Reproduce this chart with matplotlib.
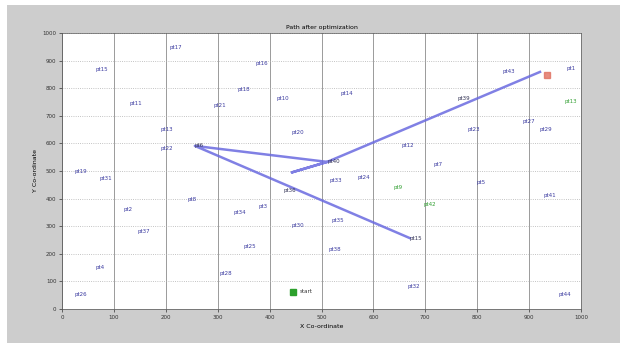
import matplotlib
matplotlib.use("Agg")
import matplotlib.pyplot as plt
from matplotlib.patches import Rectangle

# node labels and positions
node_names = ["pt17", "pt15", "pt16", "pt11", "pt21", "pt18", "pt10", "pt13", "pt22", "pt20",
              "pt19", "pt31", "pt14", "pt43", "pt1", "pt23", "pt27", "pt29", "pt12", "pt7",
              "pt8", "pt2", "pt37", "pt34", "pt3", "pt30", "pt25", "pt28", "pt4", "pt26",
              "pt33", "pt24", "pt5", "pt41", "pt35", "pt38", "pt32", "pt44"]
node_x = [208, 64, 372, 131, 291, 339, 414, 189, 189, 443,
          25, 73, 536, 848, 973, 782, 888, 921, 655, 715,
          241, 118, 145, 330, 378, 443, 349, 304, 64, 25,
          516, 570, 799, 927, 520, 513, 665, 956]
node_y = [949, 866, 891, 746, 736, 797, 761, 649, 580, 638,
          500, 474, 779, 859, 870, 649, 681, 652, 594, 525,
          395, 359, 279, 351, 373, 301, 225, 130, 152, 51,
          467, 478, 457, 413, 322, 217, 80, 51]

green_names = ["pt9", "pt42", "pt13"]
green_x = [638, 696, 969]
green_y = [442, 377, 750]

path_names = ["pt15", "pt6", "pt40", "pt36", "pt39"]
path_x = [670, 256, 511, 443, 511, 921]
path_y = [257, 591, 533, 495, 533, 859]
path_label_x = [670, 256, 511, 426, 763]
path_label_y = [257, 591, 533, 431, 761]

start_xy = (445, 62)
goal_xy = (935, 848)

fig = plt.figure(figsize=(6.2, 3.43), dpi=100)
fig.patch.set_facecolor("white")
fig.patches.append(Rectangle((7 / 620, 0), 1, 1 - 5 / 343, transform=fig.transFigure,
                             facecolor="#cdcdcd", edgecolor="none", zorder=-10))

ax = fig.add_axes([62 / 620, 1 - 309 / 343, (581 - 62) / 620, (309 - 33) / 343])
ax.set_facecolor("white")
ax.set_xlim(0, 1000)
ax.set_ylim(0, 1000)
ax.set_xticks(range(0, 1001, 100))
ax.set_yticks(range(0, 1001, 100))
ax.tick_params(labelsize=4, length=2, width=0.5, colors="#333333", pad=2)
ax.grid(True, color="#b0b0b0", linewidth=0.6, linestyle=":")
ax.xaxis.grid(True, color="#8a8a8a", linewidth=0.6, linestyle="-")
for s in ax.spines.values():
    s.set_linewidth(0.5)
    s.set_color("#555555")

ax.plot(path_x, path_y, color="#6a6ae0", linewidth=1.8, alpha=0.85, zorder=3)

for n, x, y in zip(node_names, node_x, node_y):
    ax.text(x, y, n, fontsize=4, color="#3a3aa0", va="center", ha="left")
for n, x, y in zip(green_names, green_x, green_y):
    ax.text(x, y, n, fontsize=4, color="#33a033", va="center", ha="left")
for n, x, y in zip(path_names, path_label_x, path_label_y):
    ax.text(x, y, n, fontsize=4, color="#333355", va="center", ha="left", zorder=4)

ax.plot(*start_xy, marker="s", color="#2ca02c", markersize=4, zorder=5)
ax.text(start_xy[0] + 12, start_xy[1], "start", fontsize=4, color="#333333", va="center")
ax.plot(*goal_xy, marker="s", color="#e07060", markersize=5, alpha=0.8, zorder=5)

ax.set_title("Path after optimization", fontsize=4.5, pad=3)
ax.set_xlabel("X Co-ordinate", fontsize=4.5, labelpad=3)
ax.set_ylabel("Y Co-ordinate", fontsize=4.5, labelpad=3)

fig.savefig("out.png", dpi=100)
